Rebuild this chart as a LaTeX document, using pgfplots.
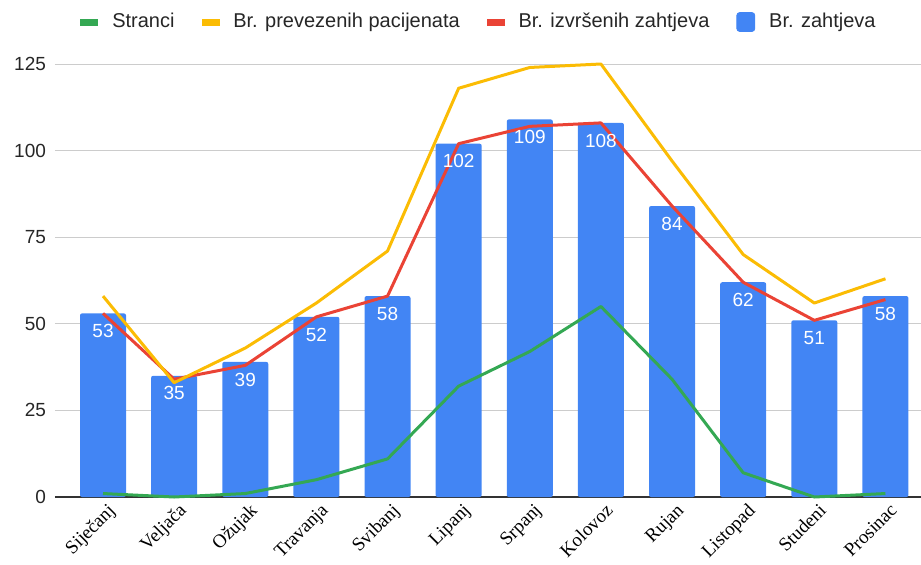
\documentclass[border=0pt]{standalone}
\usepackage{fontspec}
\setmainfont{Liberation Sans}
\newfontfamily\serif{Liberation Serif}
\usepackage{pgfplots}
\pgfplotsset{compat=1.18}
\definecolor{gblue}{HTML}{4285F4}
\definecolor{gred}{HTML}{EA4335}
\definecolor{gyellow}{HTML}{FBBC04}
\definecolor{ggreen}{HTML}{34A853}

\begin{document}
\begin{tikzpicture}
\useasboundingbox (-27.5pt,-33.5pt) rectangle (433pt,248.5pt);
\begin{axis}[
  at={(0,0)}, anchor=south west,
  scale only axis, width=433pt, height=216.5pt,
  xmin=-0.675, xmax=11.5, ymin=0, ymax=125,
  clip=false,
  axis line style={draw=none},
  tick style={draw=none},
  xtick={0,...,11},
  xticklabels={Siječanj,Veljača,Ožujak,Travanja,Svibanj,Lipanj,Srpanj,Kolovoz,Rujan,Listopad,Studeni,Prosinac},
  xticklabel style={font=\serif\fontsize{9.5}{11}\selectfont, rotate=45, anchor=north east,
    inner sep=1pt, xshift=0.5pt, yshift=-2pt},
  ytick={0,25,...,125},
  yticklabel style={font=\fontsize{9.5}{11}\selectfont, text=black!85, xshift=-1pt},
  ymajorgrids, grid style={draw=black!20, line width=0.5pt},
  extra y ticks={0}, extra y tick labels={},
  extra y tick style={grid style={draw=black!80, line width=0.6pt}},
  /pgf/number format/assume math mode=true,
  legend style={at={(0.4908,1.097)}, anchor=center, draw=none, fill=none,
    legend columns=4, font=\fontsize{10}{12}\selectfont, text=black!85,
    /tikz/every even column/.append style={column sep=11.5pt},
    /tikz/every odd column/.append style={column sep=5pt}},
]
% Br. zahtjeva
\addplot[forget plot, ybar, bar width=23pt, fill=gblue, draw=none, rounded corners=1pt]
  coordinates {(0,53)(1,35)(2,39)(3,52)(4,58)(5,102)(6,109)(7,108)(8,84)(9,62)(10,51)(11,58)};
% Stranci
\addplot[forget plot, ggreen, line width=1.5pt, line join=round, mark=none]
  coordinates {(0,1)(1,0)(2,1)(3,5)(4,11)(5,32)(6,42)(7,55)(8,34)(9,7)(10,0)(11,1)};
% Br. izvrsenih zahtjeva
\addplot[forget plot, gred, line width=1.5pt, line join=round, mark=none]
  coordinates {(0,53)(1,34)(2,38)(3,52)(4,58)(5,102)(6,107)(7,108)(8,84)(9,62)(10,51)(11,57)};
% Br. prevezenih pacijenata
\addplot[forget plot, gyellow, line width=1.5pt, line join=round, mark=none]
  coordinates {(0,58)(1,33)(2,43)(3,56)(4,71)(5,118)(6,124)(7,125)(8,97)(9,70)(10,56)(11,63)};
% bar labels
\addplot[forget plot, only marks, mark=none, nodes near coords, point meta=y,
  every node near coord/.append style={anchor=center, yshift=-8.8pt, text=white, font=\fontsize{9.5}{11}\selectfont}]
  coordinates {(0,53)(1,35)(2,39)(3,52)(4,58)(5,102)(6,109)(7,108)(8,84)(9,62)(10,51)(11,58)};

\addlegendimage{legend image code/.code={\fill[ggreen] (0pt,-1.5pt) rectangle (8.5pt,1.5pt);}}
\addlegendentry{Stranci}
\addlegendimage{legend image code/.code={\fill[gyellow] (0pt,-1.5pt) rectangle (8.5pt,1.5pt);}}
\addlegendentry{Br. prevezenih pacijenata}
\addlegendimage{legend image code/.code={\fill[gred] (0pt,-1.5pt) rectangle (8.5pt,1.5pt);}}
\addlegendentry{Br. izvršenih zahtjeva}
\addlegendimage{legend image code/.code={\fill[gblue, rounded corners=1.5pt] (0pt,-4.75pt) rectangle (9pt,4.75pt);}}
\addlegendentry{Br. zahtjeva}
\end{axis}
\end{tikzpicture}
\end{document}
